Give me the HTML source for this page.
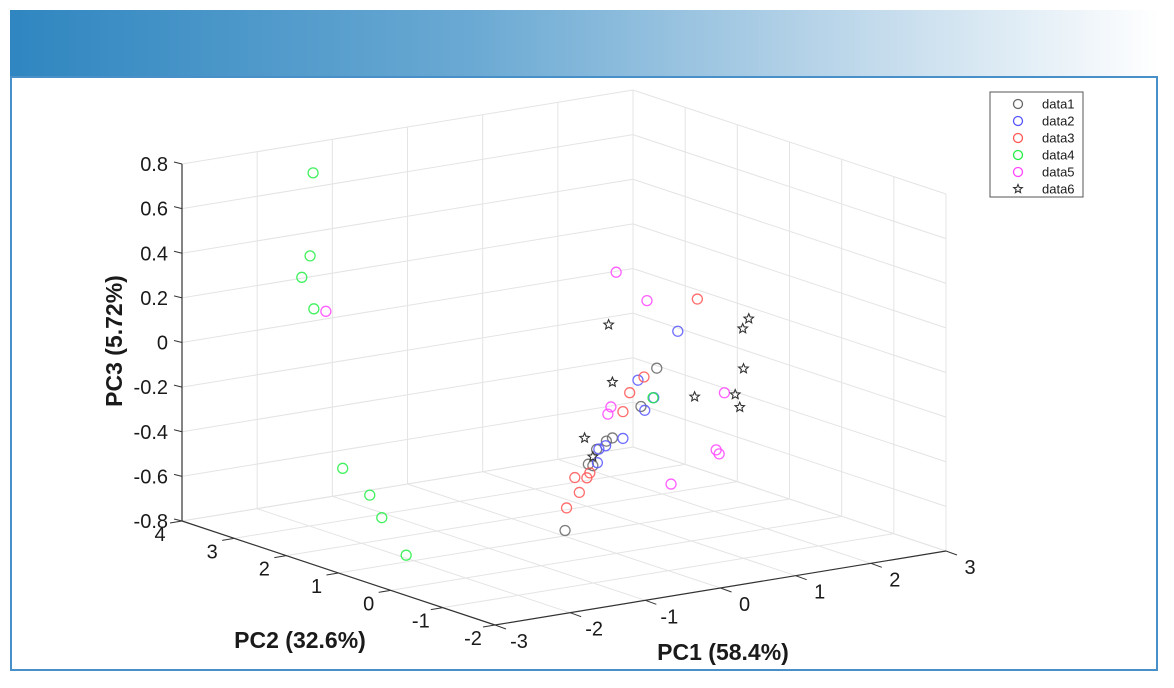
<!DOCTYPE html>
<html><head><meta charset="utf-8">
<style>
body{margin:0;background:#fff;width:1174px;height:688px;overflow:hidden;font-family:"Liberation Sans",sans-serif}
#hdr{position:absolute;left:10px;top:10px;width:1150px;height:66px;background:linear-gradient(90deg,#2f86c0 0%,#6aa9d3 40%,#b6d3e8 70%,#ffffff 100%)}
#frame{position:absolute;left:10px;top:76px;width:1148px;height:595px;border:2px solid #4a90c8;border-top:2px solid #4a90c8;box-sizing:border-box}
svg{position:absolute;left:0;top:0}
</style></head><body>
<div id="hdr"></div>
<div id="frame"></div>
<svg id="chart" width="1174" height="688"></svg>
<script>
const seriesNames=["data1","data2","data3","data4","data5","data6"];
const seriesColors=["#666666","#5555ff","#ff5555","#22ee44","#ff44ff","#333333"];
const pc1Ticks=[-3,-2,-1,0,1,2,3];
const pc2Ticks=[4,3,2,1,0,-1,-2];
const pc3Ticks=[-0.8,-0.6,-0.4,-0.2,0,0.2,0.4,0.6,0.8];
const pc3TickLabels=["-0.8","-0.6","-0.4","-0.2","0","0.2","0.4","0.6","0.8"];
// data values [PC1, PC2, PC3]
const data1=[[0.54,0,0.00],[0.33,0,-0.16],[-0.05,0,-0.28],[-0.13,0,-0.29],[-0.26,0,-0.32],[-0.37,0,-0.38],[-0.31,0,-0.39],[-0.68,0,-0.66]];
const data2=[[0.82,0,0.15],[0.29,0,-0.04],[0.50,0,-0.13],[0.38,0,-0.18],[0.09,0,-0.29],[-0.14,0,-0.31],[-0.23,0,-0.32],[-0.25,0,-0.38]];
const data3=[[1.08,0,0.28],[0.37,0,-0.03],[0.18,0,-0.09],[0.09,0,-0.17],[-0.55,0,-0.43],[-0.39,0,-0.44],[-0.35,0,-0.42],[-0.49,0,-0.50],[-0.66,0,-0.56]];
const data4=[[-1.95,3,0.78],[-1.99,3,0.41],[-2.10,3,0.32],[-1.94,3,0.17],[-2.25,2,-0.45],[-1.89,2,-0.59],[-1.73,2,-0.70],[-2.10,1,-0.77],[0.49,0,-0.13]];
const data5=[[0.0,0,0.46],[0.41,0,0.31],[1.44,0,-0.16],[1.33,0,-0.41],[1.37,0,-0.43],[0.73,0,-0.53],[-0.07,0,-0.14],[-0.11,0,-0.17],[-1.78,3,0.15]];
const data6=[[-0.10,0,0.23],[-0.05,0,-0.03],[-0.42,0,-0.26],[-0.31,0,-0.35],[1.07,-1,0.27],[0.99,-1,0.23],[1.00,-1,0.05],[0.35,-1,-0.04],[0.89,-1,-0.06],[0.95,-1,-0.12]];
const allSeries=[data1,data2,data3,data4,data5,data6];

const O={x:182,y:521}; // PC1=-3, PC2=4, PC3=-0.8
const V1={x:451,y:-74}, V2={x:313,y:104}, VZ=357;
function proj(a,b,c){const u=(a+3)/6,v=(4-b)/6,w=(c+0.8)/1.6;return [O.x+u*V1.x+v*V2.x,O.y+u*V1.y+v*V2.y-w*VZ];}
const svg=document.getElementById('chart');const NS='http://www.w3.org/2000/svg';
function mk(t,at,p){const e=document.createElementNS(NS,t);for(const k in at)e.setAttribute(k,at[k]);(p||svg).appendChild(e);return e;}
function line(p,q,st,sw,g){return mk('line',{x1:p[0],y1:p[1],x2:q[0],y2:q[1],stroke:st,'stroke-width':sw},g);}
const grid=mk('g',{});


const gc='#e4e4e4';
// back wall PC2=4
pc1Ticks.forEach(a=>line(proj(a,4,-0.8),proj(a,4,0.8),gc,1,grid));
pc3Ticks.forEach(c=>line(proj(-3,4,c),proj(3,4,c),gc,1,grid));
// right wall PC1=3
pc2Ticks.forEach(b=>line(proj(3,b,-0.8),proj(3,b,0.8),gc,1,grid));
pc3Ticks.forEach(c=>line(proj(3,4,c),proj(3,-2,c),gc,1,grid));
// floor
pc1Ticks.forEach(a=>line(proj(a,4,-0.8),proj(a,-2,-0.8),gc,1,grid));
pc2Ticks.forEach(b=>line(proj(-3,b,-0.8),proj(3,b,-0.8),gc,1,grid));
// axes
const ax=mk('g',{});


line(proj(-3,4,-0.8),proj(-3,4,0.8),'#333',1.2,ax);
line(proj(-3,4,-0.8),proj(-3,-2,-0.8),'#333',1.2,ax);
line(proj(-3,-2,-0.8),proj(3,-2,-0.8),'#333',1.2,ax);
function txt(x,y,s,anchor,size,weight,name){const t=mk('text',{x:x,y:y,'text-anchor':anchor,'font-size':size,'font-weight':weight||'normal',fill:'#1a1a1a','font-family':'Liberation Sans, sans-serif'});t.textContent=s;return t;}
pc3Ticks.forEach((c,i)=>{const p=proj(-3,4,c);line(p,[p[0]-8,p[1]-2],'#333',1,ax);txt(p[0]-14,p[1]+7,pc3TickLabels[i],'end',20,'normal','z-tick-label');});
pc2Ticks.forEach(b=>{const p=proj(-3,b,-0.8);line(p,[p[0]-12,p[1]+2],'#333',1,ax);txt(p[0]-22,p[1]+20,String(b),'middle',20,'normal','pc2-tick-label');});
pc1Ticks.forEach(a=>{const p=proj(a,-2,-0.8);line(p,[p[0]+11,p[1]+4],'#333',1,ax);txt(p[0]+24,p[1]+23,String(a),'middle',20,'normal','pc1-tick-label');});
txt(300,648,'PC2 (32.6%)','middle',23,'bold','pc2-axis-title');
txt(723,660,'PC1 (58.4%)','middle',23,'bold','pc1-axis-title');
const zt=txt(0,0,'PC3 (5.72%)','middle',23,'bold','pc3-axis-title');zt.setAttribute('transform','translate(122,341) rotate(-90)');
function star(x,y,r,col,g){let d='';for(let k=0;k<10;k++){const rr=k%2?r*0.45:r;const an=-Math.PI/2+k*Math.PI/5;d+=(k?'L':'M')+(x+rr*Math.cos(an)).toFixed(1)+' '+(y+rr*Math.sin(an)).toFixed(1);}return mk('path',{d:d+'Z',fill:'none',stroke:col,'stroke-width':1.1},g);}
allSeries.forEach((s,i)=>{const g=mk('g',{});


s.forEach(pt=>{const p=proj(pt[0],pt[1],pt[2]);let m;
if(i===5){m=star(p[0],p[1],5,seriesColors[i],g);}else{m=mk('circle',{cx:p[0],cy:p[1],r:5,fill:'none',stroke:seriesColors[i],'stroke-width':1.3,'stroke-opacity':0.85},g);}

});});
// legend
const lg=mk('g',{});


mk('rect',{x:990,y:92,width:93,height:105,fill:'#fff',stroke:'#555','stroke-width':1},lg);
seriesNames.forEach((n,i)=>{const y=104+i*17;const e=mk('g',{},lg);


if(i===5)star(1018,y,4.5,seriesColors[i],e);else mk('circle',{cx:1018,cy:y,r:4.5,fill:'none',stroke:seriesColors[i],'stroke-width':1.3},e);
const t=mk('text',{x:1042,y:y+4.5,'font-size':13,fill:'#1a1a1a','font-family':'Liberation Sans, sans-serif'},e);t.textContent=n;});
</script>
</body></html>
